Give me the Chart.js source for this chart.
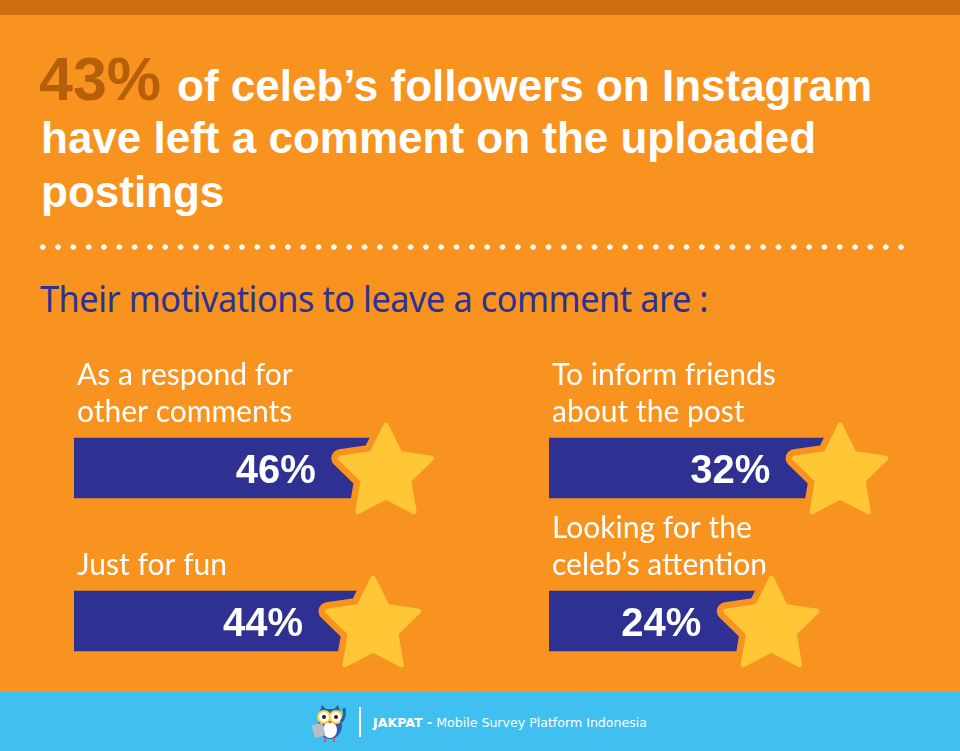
<!DOCTYPE html>
<html>
<head>
<meta charset="utf-8">
<script src="https://cdn.jsdelivr.net/npm/chart.js@4/dist/chart.umd.min.js"></script>
<style>
  html, body { margin: 0; padding: 0; }
  body { width: 960px; height: 751px; overflow: hidden; }
  #page { position: relative; width: 960px; height: 751px; background: #F7931E; overflow: hidden; }
  #topbar { position: absolute; left: 0; top: 0; width: 960px; height: 15px; background: #D06E11; }
  .t { position: absolute; white-space: nowrap; font-family: "Liberation Sans", Arial, sans-serif; font-weight: 700; color: #fff; font-size: 44px; line-height: 44px; }
  .big { font-size: 61px; line-height: 61px; color: #B65F0A; }
  #dots { position: absolute; left: 35px; top: 244px; width: 874px; height: 6px;
          background-image: radial-gradient(circle, #fff 2.4px, rgba(255,255,255,0) 3px);
          background-size: 15.34px 6px; }
  #sub { position: absolute; left: 40px; top: 281px; white-space: nowrap; font-family: "Noto Sans", sans-serif;
         font-size: 36px; line-height: 36px; color: #2E3192; transform-origin: 0 0; letter-spacing: -0.5px; }
  canvas.col { position: absolute; top: 340px; }
  #footer { position: absolute; left: 0; top: 692px; width: 960px; height: 59px; background: #3FC0F0; z-index: 3; }
  #vline { position: absolute; left: 359px; top: 15px; width: 2px; height: 30px; background: #fff; }
  #brand { position: absolute; left: 373px; top: 25px; white-space: nowrap; font-family: "DejaVu Sans", sans-serif;
           font-size: 12px; line-height: 12px; color: #fff; transform-origin: 0 0; }
  #owl { position: absolute; left: 311px; top: 10px; }
</style>
</head>
<body>
<div id="page">
  <div id="topbar"></div>
  <div class="t big" style="left:39px; top:49px;">43%</div>
  <div class="t" style="left:177px; top:64px;">of celeb’s followers on Instagram</div>
  <div class="t" style="left:41px; top:116px;">have left a comment on the uploaded</div>
  <div class="t" style="left:41px; top:170px;">postings</div>
  <div id="dots"></div>
  <div id="sub">Their motivations to leave a comment are :</div>
  <canvas id="leftChart" class="col" width="480" height="370" style="left:0px;"></canvas>
  <canvas id="rightChart" class="col" width="480" height="370" style="left:480px;"></canvas>
  <div id="footer">
    <svg id="owl" width="38" height="42" viewBox="0 0 38 42">
      <path d="M9 9 L11 3 L15 7 L23 7 L27 3 L29 9 Z" fill="#2B5DAA"/>
      <ellipse cx="19" cy="23" rx="12" ry="14" fill="#2B5DAA"/>
      <ellipse cx="19" cy="28" rx="7" ry="8" fill="#fff"/>
      <circle cx="13" cy="15" r="6" fill="#fff" stroke="#FFD23F" stroke-width="2"/>
      <circle cx="25" cy="15" r="6" fill="#fff" stroke="#FFD23F" stroke-width="2"/>
      <circle cx="13" cy="15" r="2" fill="#222"/>
      <circle cx="25" cy="15" r="2" fill="#222"/>
      <path d="M17 19 L21 19 L19 22 Z" fill="#E8505B"/>
      <rect x="2" y="22" width="11" height="13" rx="1" fill="#B7BCC6" transform="rotate(-15 7 28)"/>
      <path d="M30 20 Q35 14 33 6" stroke="#2B5DAA" stroke-width="3" fill="none"/>
      <rect x="13" y="36" width="2" height="4" fill="#E8505B"/>
      <rect x="22" y="36" width="2" height="4" fill="#E8505B"/>
    </svg>
    <div id="vline"></div>
    <div id="brand"><b>JAKPAT -</b> Mobile Survey Platform Indonesia</div>
  </div>
</div>
<script>
// data
const leftLabels = [["As a respond for", "other comments"], ["Just for fun"]];
const leftValues = [46, 44];
const rightLabels = [["To inform friends", "about the post"], ["Looking for the", "celeb’s attention"]];
const rightValues = [32, 24];

const orange = "#F7931E";
const navy = "#2E3192";
const yellow = "#FFC636";

// fit the condensed-looking texts to their widths
function fitWidth(id, w) {
    const el = document.getElementById(id);
    const real = el.getBoundingClientRect().width;
    el.style.transform = "scaleX(" + (w / real) + ")";
}
fitWidth("sub", 668);
fitWidth("brand", 274);

function starPath(ctx, cx, cy, R, r) {
    ctx.beginPath();
    for (let k = 0; k < 10; k++) {
        const a = -Math.PI / 2 + k * Math.PI / 5;
        const rad = (k % 2) ? r : R;
        ctx.lineTo(cx + rad * Math.cos(a), cy + rad * Math.sin(a));
    }
    ctx.closePath();
}

// labels, percentages and stars on each bar
const decorPlugin = {
    id: "decor",
    afterDatasetsDraw(chart) {
        const ctx = chart.ctx;
        const meta = chart.getDatasetMeta(0);
        const labels = chart.data.labels;
        const values = chart.data.datasets[0].data;
        meta.data.forEach((bar, i) => {
            const top = bar.y - bar.height / 2;
            ctx.save();
            // category text above bar
            ctx.fillStyle = "#fff";
            ctx.font = "30px Lato, sans-serif";
            ctx.textAlign = "left";
            ctx.textBaseline = "alphabetic";
            const lines = labels[i];
            lines.forEach((ln, j) => {
                ctx.fillText(ln, chart.chartArea.left + 3, top - 16 - (lines.length - 1 - j) * 37);
            });
            // value
            ctx.font = "bold 40px 'Liberation Sans', Arial, sans-serif";
            ctx.textAlign = "right";
            ctx.fillText(values[i] + "%", bar.x - 54, bar.y + 15);
            // star
            const cx = bar.x + 16, cy = bar.y + 5;
            ctx.lineJoin = "round";
            starPath(ctx, cx, cy, 48, 24);
            ctx.strokeStyle = orange;
            ctx.lineWidth = 18;
            ctx.stroke();
            ctx.fillStyle = yellow;
            ctx.fill();
            ctx.strokeStyle = yellow;
            ctx.lineWidth = 5;
            ctx.stroke();
            ctx.restore();
        });
    }
};

function makeChart(id, labels, values, max, padLeft, padRight) {
    const ctx = document.getElementById(id).getContext("2d");
    return new Chart(ctx, {
        type: "bar",
        data: {
            labels: labels,
            datasets: [{
                data: values,
                backgroundColor: navy,
                borderWidth: 0,
                barThickness: 60
            }]
        },
        options: {
            indexAxis: "y",
            responsive: false,
            animation: false,
            layout: {
                padding: { left: padLeft, right: padRight, top: 51.5, bottom: 12.5 }
            },
            scales: {
                x: { min: 0, max: max, display: false },
                y: { display: false }
            },
            plugins: {
                legend: { display: false },
                tooltip: { enabled: false }
            }
        },
        plugins: [decorPlugin]
    });
}

makeChart("leftChart", leftLabels, leftValues, 60, 74, 20);
makeChart("rightChart", rightLabels, rightValues, 45, 69, 24);
</script>
</body>
</html>
